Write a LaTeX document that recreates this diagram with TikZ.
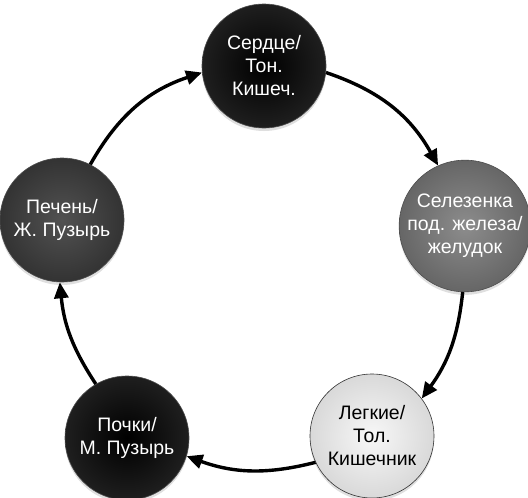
\documentclass[tikz,border=0pt]{standalone}
\usepackage{fontspec}
\setmainfont{Liberation Sans}
\usetikzlibrary{arrows.meta,shadows}
\begin{document}
\begin{tikzpicture}[x=1pt,y=1pt,
  organ/.style={circle, minimum size=124pt, inner sep=0pt, align=center,
    draw=black!70, line width=0.6pt,
    font=\fontsize{19.5}{23}\selectfont,
    drop shadow={opacity=0.25, shadow xshift=0pt, shadow yshift=-3pt}},
  flow/.style={line width=3.4pt, -{Triangle[length=16pt,width=14pt]}}
]
\useasboundingbox (0,0) rectangle (528,-498);
\node[organ, shading=radial, inner color=black, outer color=black!88, text=white]
  (heart) at (264,-66) {Сердце/\\Тон.\\Кишеч.};
\node[organ, shading=radial, inner color=black!45, outer color=black!60, text=white]
  (spleen) at (465,-226) {Селезенка\\под. железа/\\желудок};
\node[organ, shading=radial, inner color=black!3, outer color=black!15, text=black, draw=black!80]
  (lungs) at (372,-436) {Легкие/\\Тол.\\Кишечник};
\node[organ, shading=radial, inner color=black, outer color=black!88, text=white]
  (kidney) at (127,-438) {Почки/\\М. Пузырь};
\node[organ, shading=radial, inner color=black!68, outer color=black!80, text=white]
  (liver) at (62,-220) {Печень/\\Ж. Пузырь};
\draw[flow] (heart.-6) to[bend left=21] (spleen.114);
\draw[flow] (spleen.-92) to[bend left=15] (lungs.37);
\draw[flow] (lungs.205) to[bend left=17] (kidney.-17);
\draw[flow] (kidney.120) to[bend left=14] (liver.-92);
\draw[flow] (liver.63) to[bend left=21] (heart.186);
\end{tikzpicture}
\end{document}
